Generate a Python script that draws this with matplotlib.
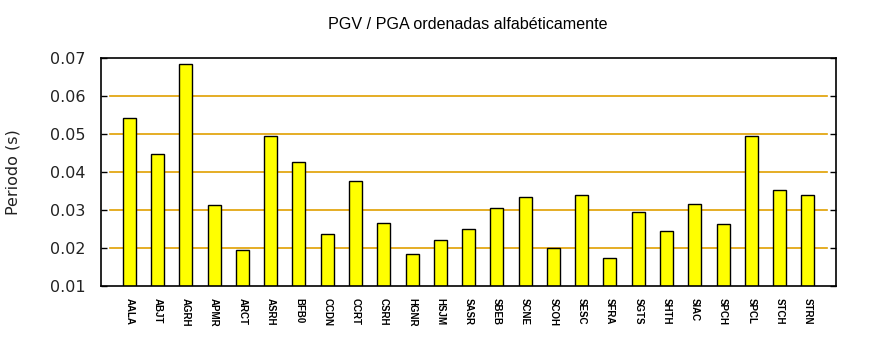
import matplotlib
matplotlib.use("Agg")
import matplotlib.pyplot as plt
import numpy as np

# Station codes and PGV/PGA values
stations = ["AALA", "ABJT", "AGRH", "APMR", "ARCT", "ASRH", "BFB0", "CCDN",
            "CCRT", "CSRH", "HGNR", "HSJM", "SASR", "SBEB", "SCNE", "SCOH",
            "SESC", "SFRA", "SGTS", "SHTH", "SIAC", "SPCH", "SPCL", "STCH",
            "STRN"]
periodo = [0.0542, 0.0447, 0.0684, 0.0313, 0.0195, 0.0495, 0.0426, 0.0237,
           0.0376, 0.0266, 0.0184, 0.0221, 0.0250, 0.0305, 0.0334, 0.0200,
           0.0339, 0.0174, 0.0295, 0.0245, 0.0316, 0.0263, 0.0495, 0.0353,
           0.0339]
yticks = [0.01, 0.02, 0.03, 0.04, 0.05, 0.06, 0.07]
grid_color = "#e0a000"

fig = plt.figure(figsize=(8.7, 3.5), dpi=100)
ax = fig.add_axes([0.1161, 0.183, 0.845, 0.651])

x = np.arange(len(stations))

# gridlines only between the outer ticks, like the original
for yv in yticks[1:-1]:
    ax.axhline(yv, xmin=0.012, xmax=0.988, color=grid_color, lw=1.2, zorder=1)

ax.bar(x, periodo, width=0.46, bottom=0, color="#ffff00",
       edgecolor="black", linewidth=1.0, zorder=2)

ax.set_xlim(-1, len(stations))
ax.set_ylim(0.01, 0.07)
ax.set_yticks(yticks)
ax.set_yticklabels([f"{v:.2f}" for v in yticks], fontsize=11.5,
                   family="DejaVu Sans", color="#222222")
ax.tick_params(axis="y", direction="in", length=4, width=1,
               left=True, right=True, pad=11)
ax.set_xticks(x)
ax.set_xticklabels(stations, rotation=-90, fontsize=7, family="Liberation Sans",
                   fontweight="bold")
ax.tick_params(axis="x", length=0, pad=9)

for s in ax.spines.values():
    s.set_linewidth(1.2)

ax.set_ylabel("Periodo (s)", fontsize=11.5, family="DejaVu Sans",
              color="#222222", labelpad=21)
fig.text(0.538, 0.931, "PGV / PGA ordenadas alfabéticamente",
         ha="center", va="center", fontsize=11.6, family="Liberation Sans")

fig.savefig("out.png", dpi=100)
